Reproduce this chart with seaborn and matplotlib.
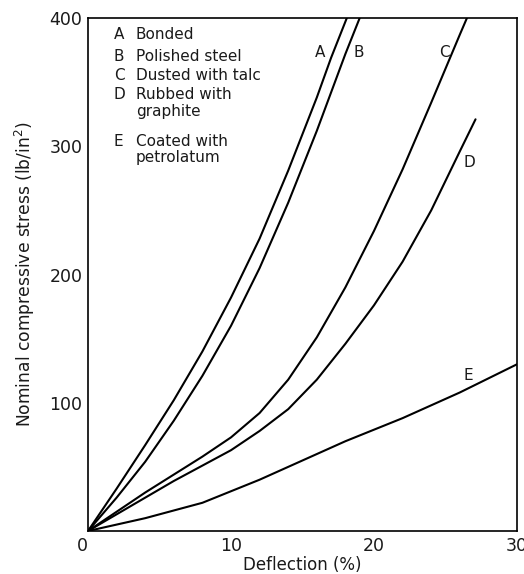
import matplotlib
matplotlib.use("Agg")
import matplotlib.pyplot as plt
import seaborn as sns
import pandas as pd

# Data (deflection %, nominal compressive stress lb/in^2)
a_x = [0, 2, 4, 6, 8, 10, 12, 14, 16, 17, 18.1]
a_y = [0, 33, 67, 102, 140, 182, 228, 281, 338, 369, 400]
b_x = [0, 2, 4, 6, 8, 10, 12, 14, 16, 18, 19.0]
b_y = [0, 26, 54, 86, 121, 160, 205, 256, 312, 372, 400]
c_x = [0, 2, 4, 6, 8, 10, 12, 14, 16, 18, 20, 22, 24, 26, 26.5]
c_y = [0, 15, 30, 44, 58, 73, 92, 118, 151, 190, 234, 282, 334, 387, 400]
d_x = [0, 2, 4, 6, 8, 10, 12, 14, 16, 18, 20, 22, 24, 26, 27.1]
d_y = [0, 13, 26, 39, 51, 63, 78, 95, 118, 146, 176, 210, 250, 296, 321]
e_x = [0, 2, 4, 6, 8, 10, 12, 14, 16, 18, 20, 22, 24, 26, 28, 30]
e_y = [0, 5, 10, 16, 22, 31, 40, 50, 60, 70, 79, 88, 98, 108, 119, 130]

series_keys = ["A", "B", "C", "D", "E"]
x_ticks = [0, 10, 20, 30]
y_ticks = [100, 200, 300, 400]

frames = []
for key, xs, ys in zip(series_keys, [a_x, b_x, c_x, d_x, e_x], [a_y, b_y, c_y, d_y, e_y]):
    frames.append(pd.DataFrame({"deflection": xs, "stress": ys, "curve": key}))
df = pd.concat(frames, ignore_index=True)

sns.set_style("white")
plt.rcParams["font.family"] = ["DejaVu Sans"]
txt_col = "#1a1a1a"

fig = plt.figure(figsize=(5.24, 5.74), dpi=100)
ax = fig.add_axes([88 / 524, 1 - 531 / 574, (517 - 88) / 524, (531 - 18) / 574])

sns.lineplot(data=df, x="deflection", y="stress", hue="curve",
             palette={k: "black" for k in series_keys}, estimator=None,
             sort=False, linewidth=1.5, legend=False, ax=ax)

ax.set_xlim(0, 30)
ax.set_ylim(0, 400)
ax.set_xticks(x_ticks)
ax.set_yticks(y_ticks)
ax.set_xticklabels([str(t) for t in x_ticks])
ax.set_yticklabels([str(t) for t in y_ticks])
ax.tick_params(direction="in", length=5, width=1.0, labelsize=12.5, colors="black",
               labelcolor=txt_col, pad=4)
for lab in ax.get_xticklabels():
    if lab.get_text() == "0":
        lab.set_horizontalalignment("right")
for s in ax.spines.values():
    s.set_color("black")
    s.set_linewidth(1.2)

ax.set_xlabel("Deflection (%)", fontsize=12, color=txt_col, labelpad=1)
ax.set_ylabel("Nominal compressive stress (lb/in$^2$)", fontsize=12.3, color=txt_col, labelpad=9)

# Legend text block (letters + descriptions)
rows = [("A", "Bonded", 387), ("B", "Polished steel", 370), ("C", "Dusted with talc", 355),
        ("D", "Rubbed with", 340), ("", "graphite", 327), ("E", "Coated with", 304),
        ("", "petrolatum", 291)]
for letter, text, yy in rows:
    if letter:
        ax.text(1.8, yy, letter, fontsize=11, color=txt_col, va="center", ha="left")
    ax.text(3.35, yy, text, fontsize=11, color=txt_col, va="center", ha="left")

# Curve labels
curve_labels = [("A", 16.2, 373), ("B", 18.9, 373), ("C", 24.9, 373),
                ("D", 26.7, 287), ("E", 26.6, 121)]
for key, lx, ly in curve_labels:
    ax.text(lx, ly, key, fontsize=11, color=txt_col, va="center", ha="center")

fig.savefig("out.png", dpi=100, facecolor="white")
